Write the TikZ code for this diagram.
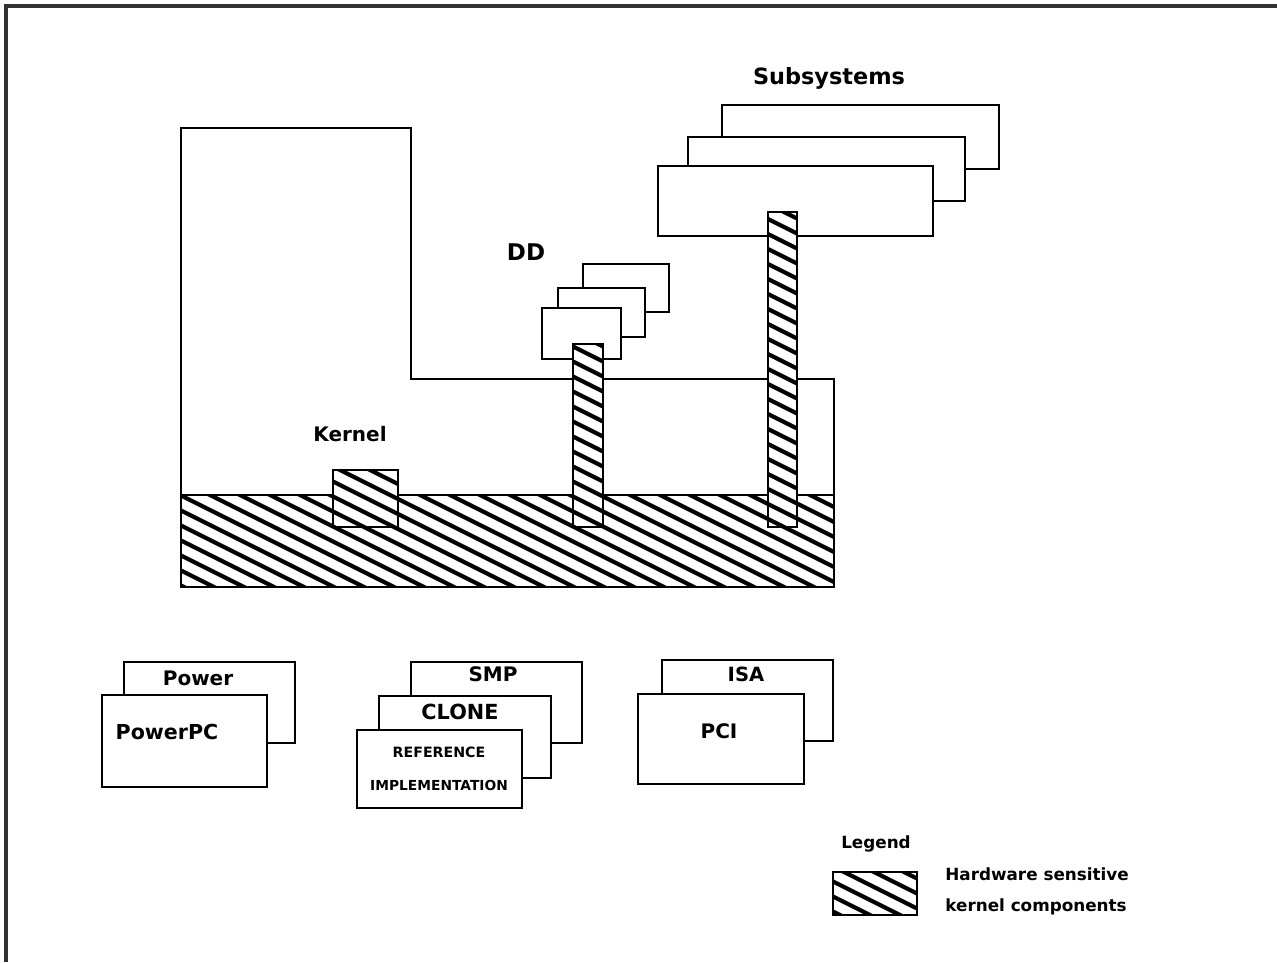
\documentclass[tikz,border=0pt]{standalone}
\usepackage{fontspec}
\newfontfamily\lblfont{DejaVu Sans}
\tikzset{
  box/.style={draw=black, line width=1pt, fill=white},
  outline/.style={draw=black, line width=1pt},
  hatchline/.style={line width=2.1pt, black},
  frameline/.style={line width=1.6pt, draw={rgb,255:red,51;green,51;blue,51}},
  lbl/.style={font=\lblfont\bfseries, inner sep=0pt, anchor=mid, yshift=-1.8pt},
}
\newcommand\hatchbox[4]{%
  \begin{scope}
    \fill[white] (#1,#2) rectangle (#3,#4);
    \clip (#1,#2) rectangle (#3,#4);
    \foreach \k in {-66,...,44} {\draw[hatchline] (\k*30-1000,-500) -- (\k*30+2000,1000);}
  \end{scope}
  \draw[outline] (#1,#2) rectangle (#3,#4);
}
\begin{document}
\begin{tikzpicture}[x=0.5pt,y=-0.5pt]
\useasboundingbox (0,0) rectangle (1277,962);
% frame
\draw[frameline] (6,962) -- (6,6) -- (1277,6);
% kernel L-shape
\draw[outline] (181,587) -- (181,128) -- (411,128) -- (411,379) -- (834,379) -- (834,587) -- cycle;
\hatchbox{181}{495}{834}{587}
\hatchbox{333}{470}{398}{527}
% DD stack
\draw[box] (583,264) rectangle (669,312);
\draw[box] (558,288) rectangle (645,337);
\draw[box] (542,308) rectangle (621,359);
\hatchbox{573}{344}{603}{527}
% Subsystems stack
\draw[box] (722,105) rectangle (999,169);
\draw[box] (688,137) rectangle (965,201);
\draw[box] (658,166) rectangle (933,236);
\hatchbox{768}{212}{797}{527}
% Power
\draw[box] (124,662) rectangle (295,743);
\draw[box] (102,695) rectangle (267,787);
% SMP / CLONE / REFERENCE
\draw[box] (411,662) rectangle (582,743);
\draw[box] (379,696) rectangle (551,778);
\draw[box] (357,730) rectangle (522,808);
% ISA / PCI
\draw[box] (662,660) rectangle (833,741);
\draw[box] (638,694) rectangle (804,784);
% legend
\hatchbox{833}{872}{917}{915}
% labels
\node[lbl, font=\lblfont\bfseries\fontsize{11.2}{13}\selectfont] (subsys) at (829,77) {Subsystems};
\node[lbl, font=\lblfont\bfseries\fontsize{11.5}{13}\selectfont] (dd) at (526,253) {DD};
\node[lbl, font=\lblfont\bfseries\fontsize{10}{12}\selectfont] (kernel) at (350,434) {Kernel};
\node[lbl, font=\lblfont\bfseries\fontsize{10}{11}\selectfont] (power) at (198,678) {Power};
\node[lbl, font=\lblfont\bfseries\fontsize{10.3}{12}\selectfont] (powerpc) at (167,732) {PowerPC};
\node[lbl, font=\lblfont\bfseries\fontsize{10}{12}\selectfont] (smp) at (493,674) {SMP};
\node[lbl, font=\lblfont\bfseries\fontsize{10.4}{12}\selectfont] (clone) at (460,712) {CLONE};
\node[lbl, font=\lblfont\bfseries\fontsize{7.1}{9}\selectfont] (ref) at (439,750) {REFERENCE};
\node[lbl, font=\lblfont\bfseries\fontsize{6.9}{9}\selectfont] (impl) at (439,783) {IMPLEMENTATION};
\node[lbl, font=\lblfont\bfseries\fontsize{9.8}{11}\selectfont] (isa) at (746,674) {ISA};
\node[lbl, font=\lblfont\bfseries\fontsize{10}{11}\selectfont] (pci) at (719,731) {PCI};
\node[lbl, font=\lblfont\bfseries\fontsize{8.4}{10}\selectfont] (legend) at (876,841) {Legend};
\node[lbl, anchor=mid west, font=\lblfont\bfseries\fontsize{8.4}{10}\selectfont] (hw) at (945,873) {Hardware sensitive};
\node[lbl, anchor=mid west, font=\lblfont\bfseries\fontsize{8.4}{10}\selectfont] (kc) at (945,904) {kernel components};
\end{tikzpicture}
\end{document}
